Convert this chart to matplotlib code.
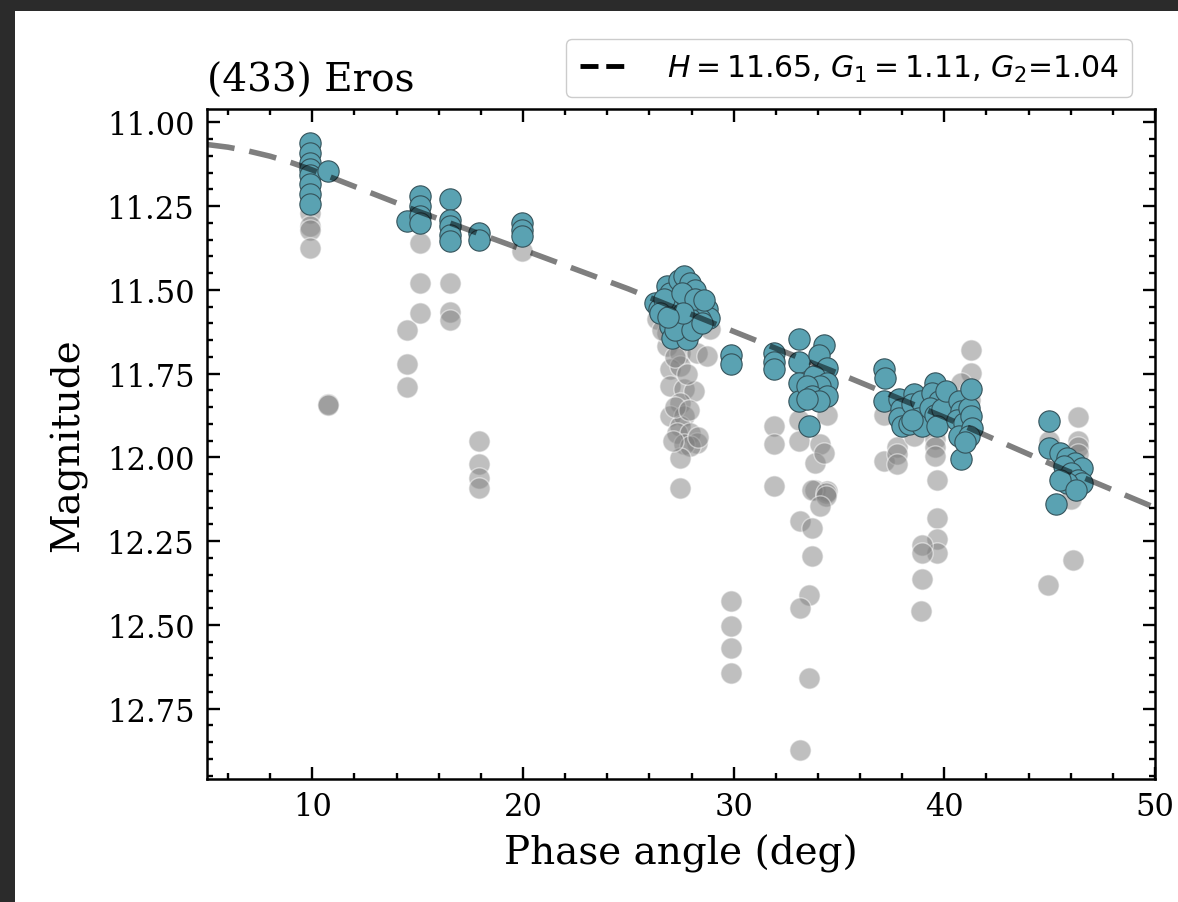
import matplotlib
matplotlib.use("Agg")
import matplotlib.pyplot as plt
from matplotlib.lines import Line2D
from matplotlib.patches import Rectangle
from matplotlib.ticker import MultipleLocator

# fitted-point magnitudes (blue)
fit_phase = [9.9, 9.9, 9.9, 9.9, 9.9, 9.9, 9.9, 9.9, 10.75,
             14.5, 15.1, 15.1, 15.1, 15.1, 16.55, 16.55, 16.55, 16.55, 16.55,
             17.9, 17.9, 19.96, 19.96, 19.96,
             26.28, 26.44, 26.84, 27.0, 27.39, 27.63, 27.95, 28.18, 27.15, 27.47,
             27.79, 28.1, 28.42, 28.74, 28.82, 28.42, 27.95, 27.31, 27.0, 27.07,
             27.79, 26.68, 27.55, 28.18, 26.5, 27.2, 28.0, 28.5, 27.6, 28.6, 26.9,
             29.85, 29.85, 31.9, 31.9, 31.9,
             33.09, 33.09, 33.09, 33.09, 33.56, 34.27, 34.04, 34.43, 33.8, 34.43,
             34.12, 33.48, 33.72, 34.43, 34.04, 33.48,
             37.13, 37.2, 37.13, 37.85, 37.92, 37.85, 38.0, 38.32,
             38.55, 38.47, 38.87, 38.79, 38.95, 38.47,
             39.58, 39.42, 39.73, 39.34, 39.58, 39.9, 39.66, 40.06,
             40.69, 40.77, 40.61, 40.93, 40.69, 40.77, 41.16, 41.25, 41.32, 41.16,
             41.0, 41.25,
             44.99, 44.99, 45.48, 45.83, 46.18, 46.53, 45.66, 46.0, 46.36, 46.53,
             45.83, 45.48, 46.27, 45.3]
fit_mag = [11.06, 11.09, 11.12, 11.14, 11.156, 11.185, 11.215, 11.245, 11.146,
           11.295, 11.22, 11.25, 11.28, 11.30, 11.23, 11.29, 11.31, 11.335, 11.355,
           11.33, 11.35, 11.30, 11.32, 11.34,
           11.538, 11.558, 11.489, 11.508, 11.469, 11.459, 11.479, 11.499, 11.538, 11.558,
           11.528, 11.568, 11.548, 11.558, 11.583, 11.588, 11.588, 11.588, 11.608, 11.643,
           11.648, 11.528, 11.508, 11.528, 11.57, 11.62, 11.62, 11.60, 11.57, 11.53, 11.58,
           11.693, 11.722, 11.687, 11.714, 11.737,
           11.648, 11.714, 11.777, 11.832, 11.907, 11.663, 11.693, 11.732, 11.757, 11.777,
           11.787, 11.787, 11.817, 11.817, 11.832, 11.827,
           11.737, 11.762, 11.832, 11.827, 11.857, 11.882, 11.907, 11.901,
           11.812, 11.842, 11.832, 11.882, 11.907, 11.887,
           11.777, 11.807, 11.832, 11.852, 11.872, 11.857, 11.907, 11.802,
           11.832, 11.862, 11.887, 11.897, 11.936, 12.006, 11.852, 11.877, 11.912, 11.936,
           11.955, 11.797,
           11.892, 11.973, 11.986, 12.001, 12.016, 12.031, 12.026, 12.046, 12.066, 12.076,
           12.076, 12.066, 12.096, 12.14]

# rejected points (gray)
rej_phase = [9.9, 9.9, 9.9, 9.9, 10.75, 10.75,
             14.5, 14.5, 14.5, 15.1, 15.1, 15.1, 16.55, 16.55, 16.55, 19.96,
             17.9, 17.9, 17.9, 17.9,
             26.36, 26.84, 27.47, 28.26, 28.74, 27.0, 27.47, 27.0, 27.63, 28.1,
             27.47, 27.0, 27.63, 27.47, 27.31, 27.95, 28.26, 27.63, 27.95, 27.47,
             27.47, 26.84, 28.9, 26.6, 27.2, 27.8, 27.2, 27.9, 28.3, 27.1,
             29.85, 29.85, 29.85, 29.85,
             31.9, 31.9, 31.9,
             33.09, 33.09, 34.12, 33.88, 33.88, 34.43, 34.43, 34.27, 33.72, 34.36,
             34.36, 34.12, 33.17, 33.72, 33.72, 33.56, 33.13, 33.56, 33.13,
             37.13, 37.76, 37.76, 37.76, 37.13,
             41.25, 41.25, 40.77, 41.2, 41.2, 38.55, 39.58, 39.58, 39.58,
             39.66, 39.66, 39.66, 39.64, 38.95, 38.95, 38.95, 38.87,
             46.36, 46.36, 46.36, 46.36, 44.99, 46.1, 44.9, 46.0]
rej_mag = [11.27, 11.31, 11.32, 11.375, 11.84, 11.845,
           11.62, 11.72, 11.79, 11.36, 11.48, 11.57, 11.48, 11.567, 11.59, 11.385,
           11.95, 12.02, 12.06, 12.09,
           11.588, 11.668, 11.688, 11.688, 11.698, 11.737, 11.727, 11.787, 11.797, 11.802,
           11.837, 11.877, 11.877, 11.907, 11.927, 11.927, 11.957, 11.961, 11.966, 12.001,
           12.091, 11.628, 11.618, 11.62, 11.70, 11.75, 11.85, 11.86, 11.94, 11.95,
           12.429, 12.503, 12.568, 12.643,
           11.907, 11.961, 12.086,
           11.887, 11.951, 11.961, 12.016, 12.096, 12.10, 11.872, 11.986, 12.096, 12.105,
           12.115, 12.145, 12.19, 12.21, 12.295, 12.41, 12.449, 12.658, 12.872,
           12.011, 11.97, 11.99, 12.02, 11.872,
           11.678, 11.747, 11.777, 11.80, 11.83, 11.936, 11.946, 11.97, 11.996,
           12.066, 12.18, 12.245, 12.285, 12.26, 12.285, 12.364, 12.459,
           11.88, 11.95, 11.97, 11.99, 11.95, 12.305, 12.38, 12.125]

# model curve
model_phase = [5, 6, 7, 8, 9, 10, 15, 20, 25, 30, 35, 40, 45, 50]
model_mag = [11.066, 11.074, 11.086, 11.101, 11.12, 11.142, 11.265, 11.38, 11.497,
             11.624, 11.75, 11.88, 12.018, 12.15]

plt.rcParams['font.family'] = 'DejaVu Serif'
plt.rcParams['mathtext.fontset'] = 'dejavusans'

fig = plt.figure(figsize=(11.78, 9.03), dpi=100, facecolor='#2b2b2b')
fig.patches.append(Rectangle((15 / 1178, 0), 1, (903 - 12) / 903, transform=fig.transFigure,
                             facecolor='white', edgecolor='none', zorder=-10))
ax = fig.add_axes([207 / 1178, 123 / 903, 948 / 1178, 670 / 903])

ax.scatter(rej_phase, rej_mag, s=235, color='gray', alpha=0.5, edgecolor='white',
           linewidth=1, zorder=2)
ax.scatter(fit_phase, fit_mag, s=235, color='#5aa2b2', edgecolor='#34525a',
           linewidth=0.8, zorder=3)
ax.plot(model_phase, model_mag, color='k', alpha=0.5, lw=4, dashes=(5, 2.7), zorder=4)

ax.set_xlim(5, 50)
ax.set_ylim(12.96, 10.96)
ax.xaxis.set_major_locator(MultipleLocator(10))
ax.xaxis.set_minor_locator(MultipleLocator(2))
ax.yaxis.set_major_locator(MultipleLocator(0.25))
ax.yaxis.set_minor_locator(MultipleLocator(0.05))
ax.tick_params(which='both', direction='in', top=True, right=True, width=1.7)
ax.tick_params(which='major', length=9, labelsize=22, pad=9)
ax.tick_params(which='minor', length=4.5)
for sp in ax.spines.values():
    sp.set_linewidth(1.8)

ax.set_xlabel('Phase angle (deg)', fontsize=28, labelpad=8)
ax.set_ylabel('Magnitude', fontsize=28, labelpad=14)
ax.set_title('(433) Eros', loc='left', fontsize=28, pad=13)

handle = Line2D([], [], color='k', ls='--', lw=3.5)
ax.legend([handle], [r'$H = 11.65$, $G_1 = 1.11$, $G_2$=1.04'], loc='lower right',
          bbox_to_anchor=(0.976, 1.018), borderaxespad=0,
          prop={'family': 'DejaVu Sans', 'size': 21.5}, handlelength=1.6,
          handletextpad=1.3, borderpad=0.45, frameon=True, fancybox=True,
          edgecolor='#cccccc', framealpha=1)

fig.savefig('out.png', dpi=100, facecolor=fig.get_facecolor())
